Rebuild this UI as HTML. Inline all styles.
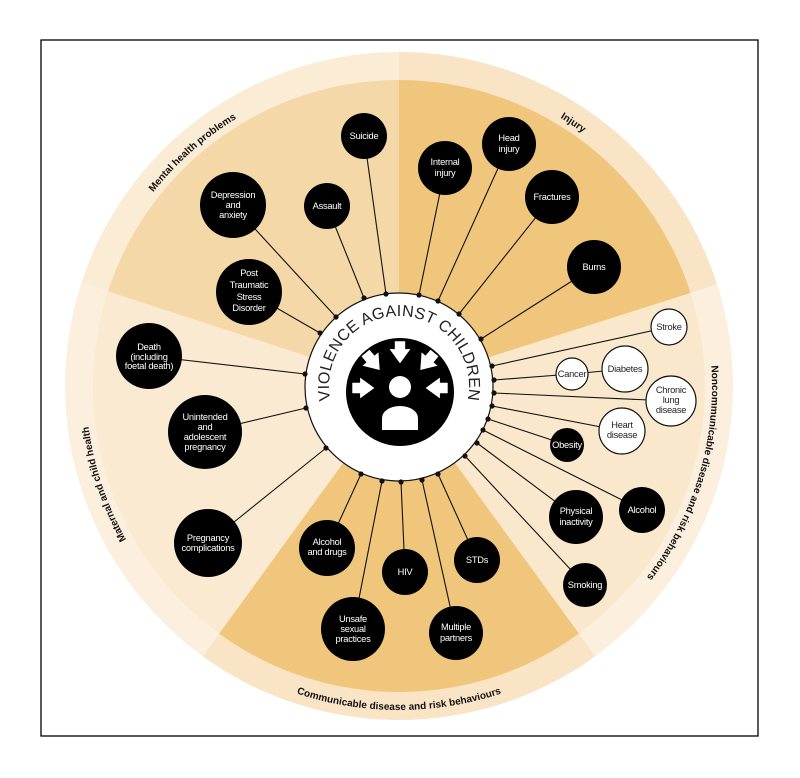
<!DOCTYPE html>
<html><head><meta charset="utf-8"><style>
html,body{margin:0;padding:0;background:#fff;}
svg{display:block;}
.n{font-family:"Liberation Sans Narrow","Liberation Sans",sans-serif;font-size:9.3px;letter-spacing:-0.25px;fill:#fff;text-anchor:middle;}
.w{fill:#222;}
.lab{font-family:"Liberation Sans",sans-serif;font-size:10px;font-weight:bold;fill:#111;}
</style></head><body>
<svg width="800" height="778" viewBox="0 0 800 778" xmlns="http://www.w3.org/2000/svg">
<rect x="41" y="40" width="717" height="696" fill="#fff" stroke="#000" stroke-width="1.3"/>
<defs>
<path id="pm" d="M92.3,448.4 A313,313 0 0 1 498.3,89.2"/>
<path id="pi" d="M259.4,105.9 A313,313 0 0 1 711.4,405.1"/>
<path id="pn" d="M627.9,172.5 A313,313 0 0 1 469.5,690.9"/>
<path id="pmat" d="M336.1,692.6 A313,313 0 0 1 164.9,178.2"/>
<path id="pc" d="M118.4,548 A324,324 0 0 0 679.6,548"/>
<path id="pv" d="M338.4,421 A70,70 0 1 1 459.6,421"/>
</defs>
<g transform="translate(399,386)">
<path d="M0,0 L0,-334 A334,334 0 0 1 318.2,-101.5 Z" fill="#f9e5c6"/>
<path d="M0,0 L318.2,-101.5 A334,334 0 0 1 196.3,270.2 Z" fill="#fcefdd"/>
<path d="M0,0 L196.3,270.2 A334,334 0 0 1 -196.3,270.2 Z" fill="#f9e5c6"/>
<path d="M0,0 L-196.3,270.2 A334,334 0 0 1 -317.6,-103.2 Z" fill="#fcefdd"/>
<path d="M0,0 L-317.6,-103.2 A334,334 0 0 1 0,-334 Z" fill="#fbecd6"/>
<path d="M0,0 L0,-306 A306,306 0 0 1 291.5,-93 Z" fill="#f0c67c"/>
<path d="M0,0 L291.5,-93 A306,306 0 0 1 179.9,247.6 Z" fill="#fae8cd"/>
<path d="M0,0 L179.9,247.6 A306,306 0 0 1 -179.9,247.6 Z" fill="#f0c67c"/>
<path d="M0,0 L-179.9,247.6 A306,306 0 0 1 -291,-94.6 Z" fill="#faead2"/>
<path d="M0,0 L-291,-94.6 A306,306 0 0 1 0,-306 Z" fill="#f5d8a7"/>
</g>
<g stroke="#111" stroke-width="1.1" fill="none">
<line x1="249" y1="292" x2="320" y2="333"/>
<line x1="233" y1="205" x2="336" y2="317"/>
<line x1="327" y1="206" x2="364" y2="298"/>
<line x1="364" y1="136" x2="386" y2="294"/>
<line x1="445" y1="168" x2="419" y2="295"/>
<line x1="509" y1="144" x2="438" y2="301"/>
<line x1="552" y1="197" x2="459" y2="314"/>
<line x1="594" y1="267" x2="481" y2="339"/>
<line x1="669" y1="327" x2="492" y2="366"/>
<line x1="572" y1="374" x2="494" y2="380"/>
<line x1="572" y1="374" x2="625" y2="369"/>
<line x1="671" y1="401" x2="494" y2="393"/>
<line x1="622" y1="431" x2="492" y2="406"/>
<line x1="567" y1="445" x2="488" y2="419"/>
<line x1="642" y1="510" x2="483" y2="430"/>
<line x1="576" y1="517" x2="477" y2="443"/>
<line x1="585" y1="585" x2="465" y2="456"/>
<line x1="477" y1="560" x2="438" y2="474"/>
<line x1="456" y1="633" x2="422" y2="480"/>
<line x1="405" y1="572" x2="401" y2="482"/>
<line x1="353" y1="629" x2="382" y2="481"/>
<line x1="327" y1="548" x2="361" y2="474"/>
<line x1="208" y1="543" x2="326" y2="448"/>
<line x1="205" y1="432" x2="306" y2="408"/>
<line x1="149" y1="356" x2="305" y2="374"/>
</g>
<circle cx="399" cy="387" r="94" fill="#fff" stroke="#111" stroke-width="1.2"/>
<g fill="#111">
<circle cx="320" cy="333" r="2.6"/><circle cx="336" cy="317" r="2.6"/><circle cx="364" cy="298" r="2.6"/><circle cx="386" cy="294" r="2.6"/>
<circle cx="419" cy="295" r="2.6"/><circle cx="438" cy="301" r="2.6"/><circle cx="459" cy="314" r="2.6"/><circle cx="481" cy="339" r="2.6"/>
<circle cx="492" cy="366" r="2.6"/><circle cx="494" cy="380" r="2.6"/><circle cx="494" cy="393" r="2.6"/><circle cx="492" cy="406" r="2.6"/>
<circle cx="488" cy="419" r="2.6"/><circle cx="483" cy="430" r="2.6"/><circle cx="477" cy="443" r="2.6"/><circle cx="465" cy="456" r="2.6"/>
<circle cx="438" cy="474" r="2.6"/><circle cx="422" cy="480" r="2.6"/><circle cx="401" cy="482" r="2.6"/><circle cx="382" cy="481" r="2.6"/>
<circle cx="361" cy="474" r="2.6"/><circle cx="326" cy="448" r="2.6"/><circle cx="306" cy="408" r="2.6"/><circle cx="305" cy="374" r="2.6"/>
</g>
<circle cx="400" cy="392" r="54" fill="#000"/>
<circle cx="400" cy="387" r="11" fill="#fff"/>
<path d="M382,430 L382,418 A18,12 0 0 1 418,418 L418,430 Z" fill="#fff"/>
<g fill="#fff">
<polygon transform="translate(400,353) scale(1.3)" points="-4,-9 4,-9 4,-3 8,-3 0,8 -8,-3 -4,-3"/>
<polygon transform="translate(364,388) rotate(-90) scale(1.3)" points="-4,-9 4,-9 4,-3 8,-3 0,8 -8,-3 -4,-3"/>
<polygon transform="translate(436,388) rotate(90) scale(1.3)" points="-4,-9 4,-9 4,-3 8,-3 0,8 -8,-3 -4,-3"/>
<polygon transform="translate(373,362) rotate(-40) scale(1.3)" points="-4,-9 4,-9 4,-3 8,-3 0,8 -8,-3 -4,-3"/>
<polygon transform="translate(427,362) rotate(40) scale(1.3)" points="-4,-9 4,-9 4,-3 8,-3 0,8 -8,-3 -4,-3"/>
</g>
<text font-family="'Liberation Sans',sans-serif" font-size="16" fill="#222" letter-spacing="0.3"><textPath href="#pv" startOffset="50%" text-anchor="middle">VIOLENCE AGAINST CHILDREN</textPath></text>
<text class="lab"><textPath href="#pm" startOffset="50%" text-anchor="middle">Mental health problems</textPath></text>
<text class="lab"><textPath href="#pi" startOffset="50%" text-anchor="middle">Injury</textPath></text>
<text class="lab"><textPath href="#pn" startOffset="50%" text-anchor="middle">Noncommunicable disease  and risk behaviours</textPath></text>
<text class="lab"><textPath href="#pmat" startOffset="50%" text-anchor="middle">Maternal and child health</textPath></text>
<text class="lab"><textPath href="#pc" startOffset="50%" text-anchor="middle">Communicable disease and risk behaviours</textPath></text>
<g fill="#000">
<circle cx="364" cy="136" r="23"/><circle cx="233" cy="205" r="33"/><circle cx="327" cy="206" r="23"/><circle cx="249" cy="292" r="33"/>
<circle cx="445" cy="168" r="27"/><circle cx="509" cy="144" r="27"/><circle cx="552" cy="197" r="27"/><circle cx="594" cy="267" r="27"/>
<circle cx="567" cy="445" r="17"/><circle cx="576" cy="517" r="27"/><circle cx="642" cy="510" r="23"/><circle cx="585" cy="585" r="22"/>
<circle cx="477" cy="560" r="23"/><circle cx="456" cy="633" r="27"/><circle cx="405" cy="572" r="23"/><circle cx="327" cy="548" r="28"/>
<circle cx="353" cy="629" r="32"/><circle cx="208" cy="543" r="34"/><circle cx="205" cy="432" r="37"/><circle cx="149" cy="356" r="33"/>
</g>
<g fill="#fff" stroke="#111" stroke-width="1.2">
<circle cx="669" cy="327" r="18"/><circle cx="572" cy="374" r="16"/><circle cx="625" cy="369" r="23"/><circle cx="671" cy="401" r="25"/><circle cx="622" cy="431" r="23"/>
</g>
<g class="n">
<text x="364" y="139">Suicide</text>
<text x="233" y="198">Depression</text><text x="233" y="208">and</text><text x="233" y="218">anxiety</text>
<text x="327" y="209">Assault</text>
<text x="249" y="276">Post</text><text x="249" y="288">Traumatic</text><text x="249" y="300">Stress</text><text x="249" y="311">Disorder</text>
<text x="445" y="165">Internal</text><text x="445" y="176">injury</text>
<text x="509" y="141">Head</text><text x="509" y="152">injury</text>
<text x="552" y="200">Fractures</text>
<text x="594" y="270">Burns</text>
<text x="567" y="448">Obesity</text>
<text x="576" y="514">Physical</text><text x="576" y="525">inactivity</text>
<text x="642" y="513">Alcohol</text>
<text x="585" y="588">Smoking</text>
<text x="477" y="563">STDs</text>
<text x="456" y="630">Multiple</text><text x="456" y="641">partners</text>
<text x="405" y="575">HIV</text>
<text x="327" y="545">Alcohol</text><text x="327" y="555">and drugs</text>
<text x="353" y="622">Unsafe</text><text x="353" y="632">sexual</text><text x="353" y="642">practices</text>
<text x="208" y="541">Pregnancy</text><text x="208" y="551">complications</text>
<text x="205" y="420">Unintended</text><text x="205" y="430">and</text><text x="205" y="440">adolescent</text><text x="205" y="450">pregnancy</text>
<text x="149" y="350">Death</text><text x="149" y="360">(including</text><text x="149" y="369">foetal death)</text>
</g>
<g class="n w">
<text x="669" y="330">Stroke</text>
<text x="572" y="377">Cancer</text>
<text x="625" y="372">Diabetes</text>
<text x="671" y="393">Chronic</text><text x="671" y="403">lung</text><text x="671" y="413">disease</text>
<text x="622" y="428">Heart</text><text x="622" y="438">disease</text>
</g>
</svg>
</body></html>
